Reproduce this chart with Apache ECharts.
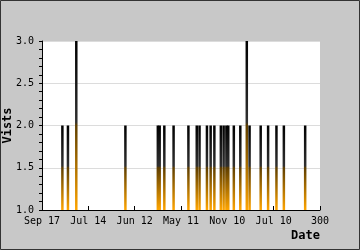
<!DOCTYPE html>
<html><head><meta charset="utf-8">
<script src="https://cdn.jsdelivr.net/npm/echarts@6/dist/echarts.min.js"></script>
<style>html,body{margin:0;padding:0;background:#c8c8c8;}#c{width:360px;height:250px;}</style>
</head><body><div id="c"></div>
<script>
var positions = [22, 28, 37, 90, 125, 127, 132, 142, 158, 167, 170, 178, 182, 186, 193, 196, 199, 201, 207, 214, 221, 224, 236, 244, 253, 261, 284];
var visits    = [2, 2, 3, 2, 2, 2, 2, 2, 2, 2, 2, 2, 2, 2, 2, 2, 2, 2, 2, 2, 3, 2, 2, 2, 2, 2, 2];
var xTickValues = [0, 50, 100, 150, 200, 250, 300];
var xTickLabels = ['Sep 17', 'Jul 14', 'Jun 12', 'May 11', 'Nov 10', 'Jul 10', '300'];

var chart = echarts.init(document.getElementById('c'), null, {renderer: 'canvas'});
var data = positions.map(function (p, i) { return [p, visits[i]]; });
var font = 'DejaVu Sans Mono';
chart.setOption({
  backgroundColor: '#c8c8c8',
  animation: false,
  graphic: [{type: 'rect', shape: {x: 0.5, y: 0.5, width: 359, height: 249}, style: {fill: null, stroke: '#333', lineWidth: 1}, silent: true}],
  grid: {left: 42, top: 41, width: 278, height: 169, show: true, backgroundColor: '#fff', borderWidth: 0, containLabel: false, outerBoundsMode: 'none'},
  xAxis: {
    type: 'value', min: 0, max: 300, interval: 50,
    name: 'Date', nameLocation: 'end', nameGap: 0, nameMoveOverlap: false,
    nameTextStyle: {fontFamily: font, fontWeight: 'bold', fontSize: 12, color: '#000', align: 'right', verticalAlign: 'top', padding: [20, 0, 0, 0]},
    axisLine: {show: true, lineStyle: {color: '#000', width: 1}},
    axisTick: {show: true, inside: true, length: 4, lineStyle: {color: '#000'}},
    splitLine: {show: false},
    axisLabel: {fontFamily: font, fontSize: 10, color: '#000', margin: 6, hideOverlap: false,
      formatter: function (v) { var i = xTickValues.indexOf(v); return i >= 0 ? xTickLabels[i] : ''; }}
  },
  yAxis: {
    type: 'value', min: 1, max: 3, interval: 0.5,
    name: 'Vists', nameLocation: 'middle', nameGap: 28, nameRotate: 90, nameMoveOverlap: false,
    nameTextStyle: {fontFamily: font, fontWeight: 'bold', fontSize: 12, color: '#000'},
    axisLine: {show: true, lineStyle: {color: '#000', width: 1}},
    axisTick: {show: true, length: 3, lineStyle: {color: '#000'}},
    minorTick: {show: true, splitNumber: 5, length: 3, lineStyle: {color: '#000'}},
    splitLine: {show: true, lineStyle: {color: '#dcdcdc', width: 1}},
    axisLabel: {fontFamily: font, fontSize: 10, color: '#000', margin: 8,
      formatter: function (v) { return v.toFixed(1); }}
  },
  series: [{
    type: 'bar', data: data, barWidth: 2.5,
    itemStyle: {
      color: new echarts.graphic.LinearGradient(0, 0, 0, 1, [
        {offset: 0, color: '#000000'},
        {offset: 0.48, color: '#303030'},
        {offset: 0.5, color: '#5e3e00'},
        {offset: 1, color: '#ffa500'}
      ]),
      borderColor: '#000', borderWidth: 0
    }
  }]
});
</script></body></html>
